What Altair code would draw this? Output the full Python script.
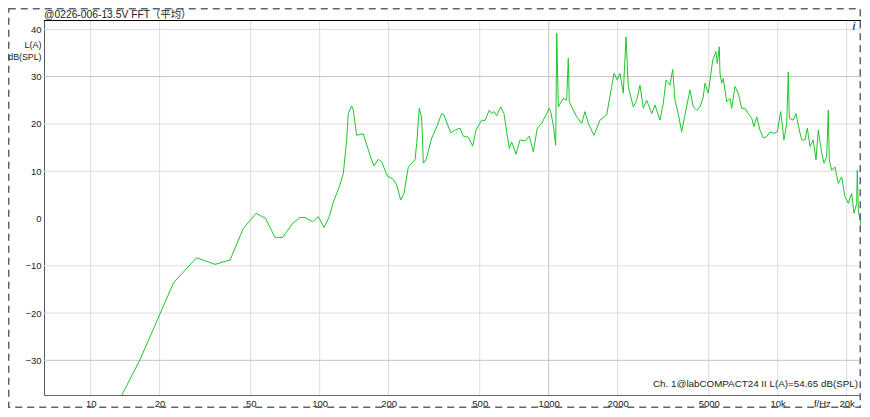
import altair as alt
import pandas as pd

# ---- data (frequency in Hz, level in dB(SPL), A-weighted) ----
freq_hz = [
    12.1, 13.7, 16.4, 19.7, 23.0, 29.0, 34.9, 40.6, 46.4, 52.7,
    58.1, 63.8, 68.9, 76.3, 82.0, 86.3, 93.2, 98.6, 104.4, 110.2,
    114.7, 121.8, 126.8, 131.2, 133.3, 137.9, 140.2, 145.0, 155.0, 165.8,
    172.6, 180.3, 186.5, 197.3, 209.6, 216.9, 225.8, 233.4, 243.8, 260.8,
    265.3, 272.3, 278.9, 283.5, 291.3, 308.5, 324.4, 341.1, 349.1, 373.4,
    389.8, 410.0, 423.8, 445.6, 465.7, 481.4, 509.8, 527.0, 550.4, 563.8,
    577.0, 592.9, 617.3, 637.9, 655.5, 672.9, 689.3, 719.8, 749.3, 787.9,
    823.0, 856.8, 891.8, 932.0, 980.0, 1006, 1020, 1047, 1073, 1084,
    1102, 1158, 1198, 1218, 1230, 1281, 1326, 1394, 1440, 1489,
    1577, 1675, 1792, 1884, 1929, 1993, 2048, 2117, 2176, 2226,
    2342, 2423, 2505, 2589, 2679, 2818, 2912, 3062, 3166, 3253,
    3386, 3479, 3560, 3680, 3808, 3936, 4140, 4279, 4428, 4578,
    4732, 4813, 4975, 5203, 5378, 5448, 5559, 5598, 5695, 5787,
    5989, 6190, 6297, 6509, 6729, 6963, 7198, 7440, 7700, 7880,
    8097, 8369, 8651, 8953, 9256, 9634, 9960, 10310, 10650, 10950,
    11130, 11240, 11700, 12020, 12430, 12730, 13150, 13470, 13840, 14300,
    14700, 15040, 15570, 15930, 16370, 16630, 16800, 17210, 17790, 18390,
    19030, 19670, 20340, 21040, 21540, 22130, 22260, 22490, 22880, 23410,
    23650,
]
level_db = [
    -41.6, -37.3, -29.9, -21.1, -13.6, -8.3, -9.7, -8.8, -2.1, 1.1,
    0.0, -4.0, -4.0, -1.0, 0.2, 0.2, -0.7, 0.4, -1.9, 0.4,
    3.5, 6.7, 9.5, 16.6, 22.2, 23.8, 22.9, 17.6, 17.9, 13.4,
    11.1, 12.5, 12.0, 9.0, 8.3, 7.1, 3.9, 5.3, 10.9, 12.4,
    15.9, 23.3, 21.2, 11.7, 12.4, 17.0, 19.4, 22.2, 21.9, 18.1,
    18.7, 19.1, 17.4, 17.2, 15.3, 18.7, 20.8, 20.7, 22.9, 22.2,
    22.6, 21.7, 23.6, 22.2, 18.3, 14.8, 16.2, 13.6, 16.6, 16.4,
    17.4, 14.1, 19.1, 20.1, 22.2, 23.3, 22.6, 19.8, 15.5, 39.2,
    23.6, 25.4, 25.0, 33.9, 24.7, 22.9, 21.5, 20.1, 22.6, 20.1,
    17.6, 20.8, 21.9, 27.9, 30.7, 29.3, 30.7, 26.5, 38.4, 27.9,
    23.6, 25.0, 28.2, 23.3, 25.0, 22.2, 24.0, 20.8, 24.4, 29.3,
    28.2, 31.5, 25.0, 22.2, 18.3, 21.9, 27.2, 23.6, 22.9, 23.6,
    25.7, 28.6, 26.5, 33.5, 35.3, 32.8, 36.3, 30.7, 28.6, 29.6,
    24.7, 25.4, 23.3, 27.9, 26.5, 23.3, 23.3, 22.2, 21.2, 19.4,
    21.5, 18.7, 17.0, 17.3, 18.3, 18.0, 18.3, 22.6, 16.6, 20.1,
    31.0, 21.2, 20.8, 22.2, 18.7, 16.6, 16.6, 19.1, 15.2, 16.6,
    12.4, 18.7, 13.8, 11.7, 13.1, 22.9, 12.4, 10.2, 10.9, 7.4,
    8.8, 4.6, 3.2, 5.3, 1.1, 3.2, 10.2, 1.8, -0.3, -3.1,
    -6.0,
]

x_tick_values = [10, 20, 50, 100, 200, 500, 1000, 2000, 5000, 10000, 15600, 20000]
y_tick_values = [40, 30, 20, 10, 0, -10, -20, -30]
grid_x_minor = [10, 20, 50, 100, 200, 500, 2000, 5000, 10000, 20000]
grid_x_major = [1000]
grid_y_minor = [40, 20, 10, -10, -20]
grid_y_major = [30, -30]

title_text = "@0226-006-13.5V FFT（平均）"
y_title_lines = ["L(A)", "dB(SPL)"]
footer_text = "Ch. 1@labCOMPACT24 II L(A)=54.65 dB(SPL)"

# ---- layout ----
W, H = 817, 375
FONT = "Liberation Sans, Arial, 'Noto Sans CJK SC', sans-serif"
TXT = "#222222"
FS = 9.5

xs = alt.Scale(type="log", domain=[6.254, 23110], nice=False)
ys = alt.Scale(domain=[-37.33, 41.97], nice=False, zero=False)

label_expr = (
    "datum.value == 10000 ? '10k' : datum.value == 20000 ? '20k' : "
    "datum.value == 15600 ? 'f/Hz' : format(datum.value, 'd')"
)
x_axis = alt.Axis(
    values=x_tick_values, labelExpr=label_expr, grid=False, ticks=False,
    domainColor="#666666", labelPadding=3, labelFontSize=FS, labelFont=FONT,
    labelColor=TXT, labelOverlap=False, labelFlush=False, title=None,
)
y_axis = alt.Axis(
    values=y_tick_values, grid=False, ticks=False, domainColor="#555555",
    labelPadding=3, labelFontSize=FS, labelFont=FONT, labelColor=TXT,
    labelOverlap=False, labelFlush=False, title=None,
)

df = pd.DataFrame({"freq": freq_hz, "level": level_db})
one = pd.DataFrame({"a": [0]})

grid_xm = alt.Chart(pd.DataFrame({"freq": grid_x_minor})).mark_rule(
    color="#dcdcdc", strokeWidth=1
).encode(x=alt.X("freq:Q", scale=xs, axis=x_axis))
grid_xM = alt.Chart(pd.DataFrame({"freq": grid_x_major})).mark_rule(
    color="#c4c4c4", strokeWidth=1
).encode(x=alt.X("freq:Q", scale=xs, axis=x_axis))
grid_ym = alt.Chart(pd.DataFrame({"level": grid_y_minor})).mark_rule(
    color="#dcdcdc", strokeWidth=1
).encode(y=alt.Y("level:Q", scale=ys, axis=y_axis))
grid_yM = alt.Chart(pd.DataFrame({"level": grid_y_major})).mark_rule(
    color="#c4c4c4", strokeWidth=1
).encode(y=alt.Y("level:Q", scale=ys, axis=y_axis))

line = alt.Chart(df).mark_line(color="#1fc62a", strokeWidth=1, clip=True).encode(
    x=alt.X("freq:Q", scale=xs, axis=x_axis),
    y=alt.Y("level:Q", scale=ys, axis=y_axis),
)

top_line = alt.Chart(one).mark_rule(color="#000000", strokeWidth=1).encode(
    x=alt.value(0), x2=alt.value(W), y=alt.value(0.5)
)

frame = alt.Chart(one).mark_rect(
    fillOpacity=0, stroke="#5a6478", strokeWidth=1.5, strokeDash=[7, 5]
).encode(
    x=alt.value(-35.25), x2=alt.value(W - 0.75), y=alt.value(-11.25), y2=alt.value(H + 12.25)
)

title = alt.Chart(one).mark_text(
    text=title_text, align="left", baseline="middle", fontSize=10.3, font=FONT, color=TXT
).encode(x=alt.value(0), y=alt.value(-5))

ytitle1 = alt.Chart(one).mark_text(
    text=y_title_lines[0], align="right", baseline="middle", fontSize=9, font=FONT, color=TXT
).encode(x=alt.value(-2.5), y=alt.value(25))
ytitle2 = alt.Chart(one).mark_text(
    text=y_title_lines[1], align="right", baseline="middle", fontSize=8.8, font=FONT, color=TXT
).encode(x=alt.value(-2.5), y=alt.value(36.7))

info = alt.Chart(one).mark_text(
    text="i", align="center", baseline="middle", fontSize=10, font=FONT,
    fontStyle="italic", fontWeight="bold", color="#1f3f9f"
).encode(x=alt.value(W - 7), y=alt.value(7))

footer = alt.Chart(one).mark_text(
    text=footer_text, align="right", baseline="middle", fontSize=9.8, font=FONT, color=TXT
).encode(x=alt.value(814), y=alt.value(364.3))

chart = alt.layer(
    grid_xm, grid_xM, grid_ym, grid_yM, line, top_line, frame, title, ytitle1, ytitle2, info, footer
).properties(
    width=W,
    height=H,
    autosize=alt.AutoSizeParams(type="none"),
    padding={"left": 36, "top": 12, "right": 0, "bottom": 13},
    background="white",
).configure_view(strokeWidth=0)

chart.save("out.html", embed_options={"renderer": "svg", "actions": False})
